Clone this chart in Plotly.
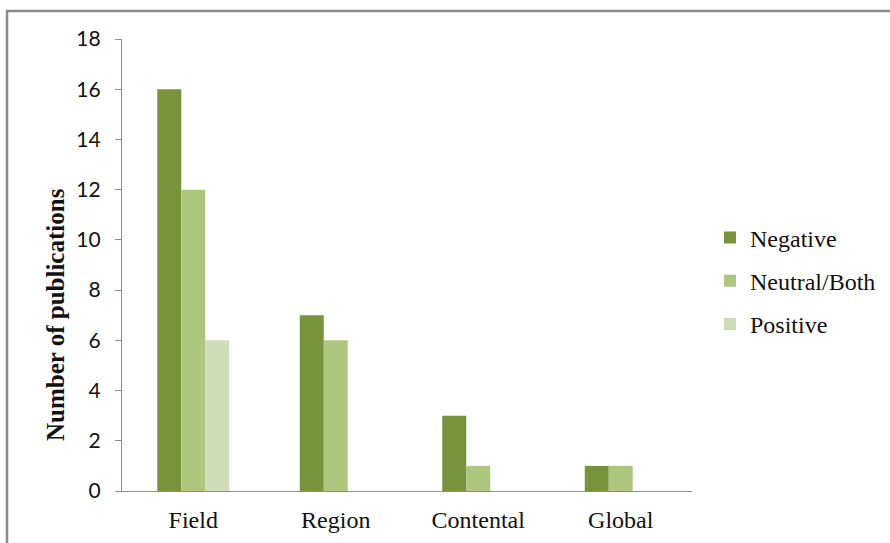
import plotly.graph_objects as go

categories = ["Field", "Region", "Contental", "Global"]
negative = [16, 7, 3, 1]
neutral_both = [12, 6, 1, 1]
positive = [6, 0, 0, 0]
series_names = ["Negative", "Neutral/Both", "Positive"]
colors = ["#77933C", "#AEC77F", "#CFDEB8"]
y_title = "<b>Number of publications</b>"

W, H = 890, 543
L, R, T, B = 122, 692, 39, 491

fig = go.Figure()
for name, vals, col in zip(series_names, [negative, neutral_both, positive], colors):
    fig.add_trace(go.Bar(x=categories, y=vals, name=name, marker_color=col,
                         marker_line_width=0, legendgroup=name))

def px_x(p):
    return (p - L) / (R - L)

def px_y(p):
    return (B - p) / (B - T)

frame = "#8C8C8C"
fig.add_shape(type="line", xref="paper", yref="paper",
              x0=px_x(7), x1=px_x(7), y0=px_y(560), y1=px_y(11),
              line=dict(color=frame, width=2.5))
fig.add_shape(type="line", xref="paper", yref="paper",
              x0=px_x(6), x1=px_x(900), y0=px_y(11), y1=px_y(11),
              line=dict(color=frame, width=2.5))

serif = "Liberation Serif"
sans = "Lato"

fig.add_annotation(text=y_title, xref="paper", yref="paper",
                   x=px_x(55), y=px_y(315), xanchor="center", yanchor="middle",
                   textangle=-90, showarrow=False,
                   font=dict(family=serif, size=25, color="#111"))

fig.update_layout(
    width=W, height=H,
    margin=dict(l=L, r=W - R, t=T, b=H - B, autoexpand=False),
    paper_bgcolor="white", plot_bgcolor="white",
    font=dict(family=serif, size=22, color="#111"),
    barmode="group", bargap=0.495, bargroupgap=0,
    showlegend=True,
    legend=dict(x=px_x(710), xanchor="left", y=px_y(281), yanchor="middle",
                font=dict(family=serif, size=24, color="#111"),
                tracegroupgap=9, itemwidth=30, bgcolor="rgba(0,0,0,0)"),
    xaxis=dict(showline=True, linecolor="#8C8C8C", linewidth=1.2, ticks="",
               tickfont=dict(family=serif, size=24, color="#111"),
               ticklabelstandoff=7, showgrid=False),
    yaxis=dict(range=[0, 18], dtick=2, showline=True, linecolor="#8C8C8C",
               linewidth=1.2, ticks="outside", ticklen=6, tickcolor="#8C8C8C",
               tickfont=dict(family=sans, size=21, color="#111"),
               ticklabelstandoff=10, showgrid=False, zeroline=False),
)

fig.write_html("out.html")
